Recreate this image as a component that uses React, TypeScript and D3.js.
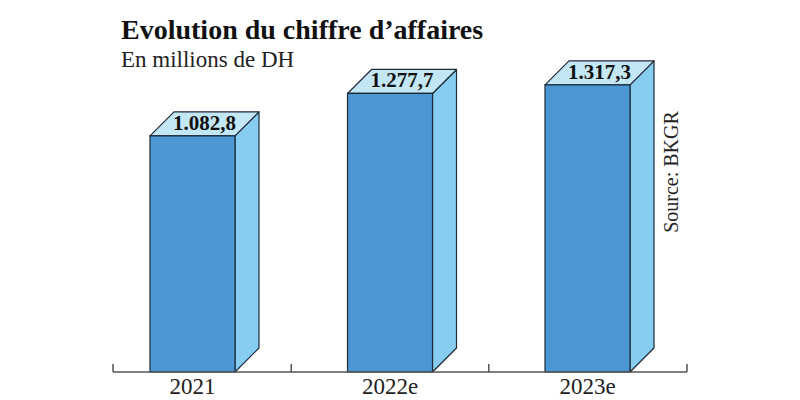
import React from "react";
import * as d3 from "d3";

const categories = ["2021", "2022e", "2023e"];
const values = [1082.8, 1277.7, 1317.3];
const valueLabels = ["1.082,8", "1.277,7", "1.317,3"];
const title = "Evolution du chiffre d’affaires";
const subtitle = "En millions de DH";
const source = "Source: BKGR";

const W = 800;
const H = 400;
const baseY = 372;
const axisX0 = 113;
const axisX1 = 687;
const barW = 85;
const dx = 24;
const dy = 24;
const serif = "'Liberation Serif', 'Times New Roman', serif";

export default function App() {
  const x = d3.scalePoint<string>().domain(categories).range([192.5, 587.5]);
  const y = d3.scaleLinear().domain([0, 1500]).range([baseY, baseY - 1500 * 0.218]);

  const centers = categories.map((c) => x(c) as number);
  const ticks = [axisX0];
  for (let i = 0; i < centers.length - 1; i++) ticks.push((centers[i] + centers[i + 1]) / 2);
  ticks.push(axisX1);

  const stroke = "#1d2a38";
  return (
    <svg width={W} height={H} style={{ position: "absolute", left: 0, top: 0, background: "#fff" }}>
      <text x={121} y={39} fontFamily={serif} fontWeight="bold" fontSize={28} fill="#111">
        {title}
      </text>
      <text x={121} y={67} fontFamily={serif} fontSize={23} fill="#222">
        {subtitle}
      </text>

      {categories.map((c, i) => {
        const cx = x(c) as number;
        const x0 = cx - barW / 2;
        const x1 = cx + barW / 2;
        const yt = y(values[i]);
        const front = `M${x0},${baseY}L${x0},${yt}L${x1},${yt}L${x1},${baseY}Z`;
        const side = `M${x1},${baseY}L${x1},${yt}L${x1 + dx},${yt - dy}L${x1 + dx},${baseY - dy}Z`;
        const top = `M${x0},${yt}L${x0 + dx},${yt - dy}L${x1 + dx},${yt - dy}L${x1},${yt}Z`;
        return (
          <g key={c}>
            <path d={side} fill="#86cdf1" stroke={stroke} strokeWidth={1.2} strokeLinejoin="round" />
            <path d={top} fill="#c4e7f6" stroke={stroke} strokeWidth={1.2} strokeLinejoin="round" />
            <path d={front} fill="#4b97d4" stroke={stroke} strokeWidth={1.2} />
            <text
              x={cx + dx / 2}
              y={yt - 6}
              textAnchor="middle"
              fontFamily={serif}
              fontWeight="bold"
              fontSize={21}
              fill="#111"
            >
              {valueLabels[i]}
            </text>
            <text x={cx} y={394} textAnchor="middle" fontFamily={serif} fontSize={23} fill="#222">
              {c}
            </text>
          </g>
        );
      })}

      <line x1={axisX0} x2={axisX1} y1={baseY} y2={baseY} stroke="#555" strokeWidth={1.5} />
      {ticks.map((t, i) => (
        <line key={i} x1={t} x2={t} y1={baseY} y2={baseY - 8} stroke="#555" strokeWidth={1.5} />
      ))}

      <text
        transform={`translate(678,172) rotate(-90)`}
        textAnchor="middle"
        fontFamily={serif}
        fontSize={20}
        fill="#222"
      >
        {source}
      </text>
    </svg>
  );
}
